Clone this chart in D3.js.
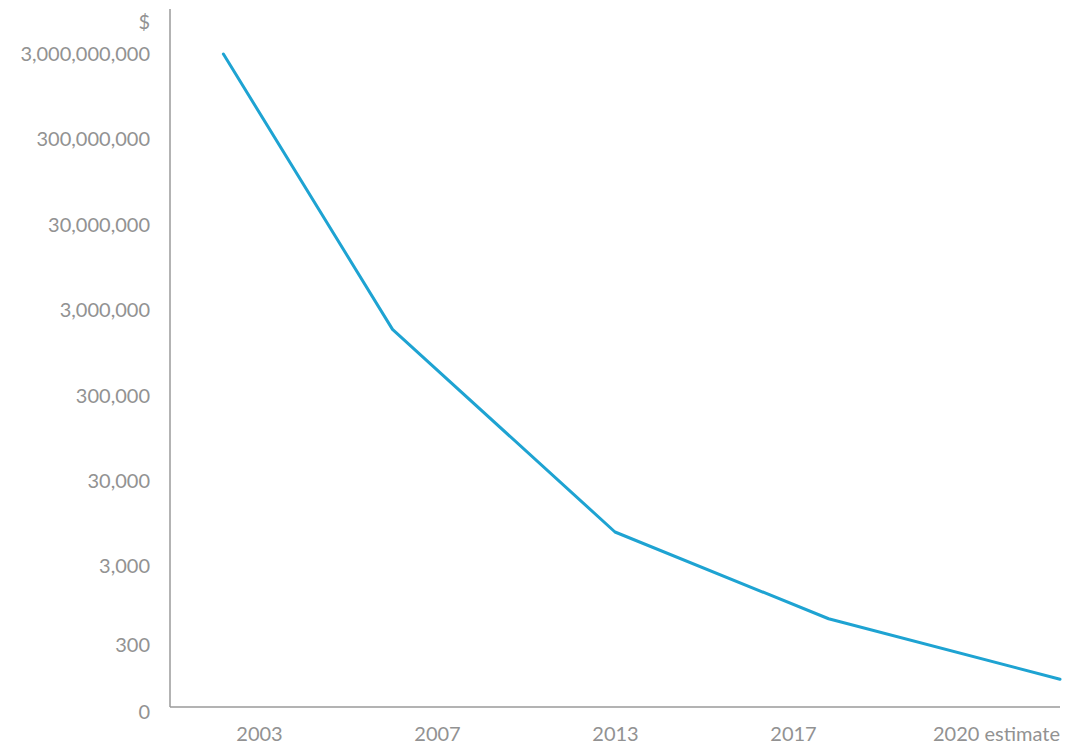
<!DOCTYPE html>
<html>
<head>
<meta charset="utf-8">
<script src="https://cdn.jsdelivr.net/npm/d3@7"></script>
<style>
  html, body { margin: 0; padding: 0; background: #ffffff; }
  svg { display: block; }
  .lbl { font-family: Lato, "Open Sans", sans-serif; font-size: 20px; fill: #929292; }
</style>
</head>
<body>
<svg id="chart" width="1066" height="748"></svg>
<script>
// ---- data ----
const years = ["2003", "2007", "2013", "2017", "2020 estimate"];
const costs = [3000000000, 1800000, 7600, 680, 85];
// position of each point along the category axis (in category units)
const pointPos = [-0.2, 0.75, 2.0, 3.2, 4.5];
const yTickValues = [0, 300, 3000, 30000, 300000, 3000000, 30000000, 300000000, 3000000000];
const unitLabel = "$";

// ---- layout ----
const svg = d3.select("#chart");
const plotLeft = 170, plotRight = 1060, plotTop = 9, plotBottom = 707;

const y = d3.scaleSymlog().constant(60).domain([0, 3000000000]).range([712, 54]);
const xCat = d3.scalePoint().domain(years).range([259, 971]);
const xPos = d3.scaleLinear().domain([0, years.length - 1]).range([259, 971]);

// axis lines
svg.append("line")
  .attr("x1", plotLeft).attr("x2", plotLeft)
  .attr("y1", plotTop).attr("y2", plotBottom)
  .attr("stroke", "#9a9a9a").attr("stroke-width", 1.5);
svg.append("line")
  .attr("x1", plotLeft).attr("x2", plotRight)
  .attr("y1", plotBottom).attr("y2", plotBottom)
  .attr("stroke", "#9a9a9a").attr("stroke-width", 1.5);

// y axis labels
const fmt = d3.format(",");
const yAxis = d3.axisLeft(y).tickValues(yTickValues).tickFormat(fmt).tickSize(0).tickPadding(20);
const gy = svg.append("g").attr("transform", `translate(${plotLeft},0)`).call(yAxis);
gy.select(".domain").remove();
gy.attr("font-family", null).attr("font-size", null);
gy.selectAll("text").attr("class", "lbl").attr("fill", null);

svg.append("text").attr("class", "lbl")
  .attr("x", 150).attr("y", 22).attr("dy", "0.35em")
  .attr("text-anchor", "end").text(unitLabel);

// x axis labels
const xAxis = d3.axisBottom(xCat).tickSize(0).tickPadding(20);
const gx = svg.append("g").attr("transform", `translate(0,${plotBottom})`).call(xAxis);
gx.select(".domain").remove();
gx.attr("font-family", null).attr("font-size", null);
gx.selectAll("text").attr("class", "lbl").attr("fill", null);
gx.selectAll(".tick").filter((d, i) => i === years.length - 1)
  .attr("transform", `translate(${plotRight},0)`)
  .select("text").attr("text-anchor", "end");

// line
const pts = costs.map((c, i) => [xPos(pointPos[i]), y(c)]);
svg.append("path")
  .attr("d", d3.line()(pts))
  .attr("fill", "none")
  .attr("stroke", "#1ea3d2")
  .attr("stroke-width", 3)
  .attr("stroke-linejoin", "round")
  .attr("stroke-linecap", "round");
</script>
</body>
</html>
